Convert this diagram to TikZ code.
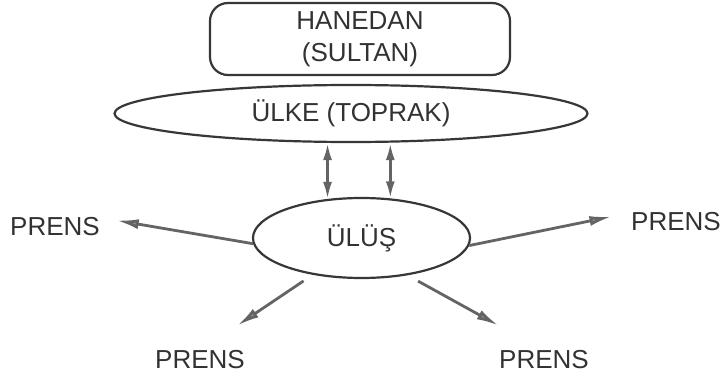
\documentclass[tikz,border=0pt]{standalone}
\usepackage{fontspec}
\setmainfont{Liberation Sans}
\usetikzlibrary{arrows.meta,shapes.geometric}

\begin{document}
\begin{tikzpicture}[x=1pt,y=1pt,
  lbl/.style={text=textColor,font=\fontsize{26}{32}\selectfont,inner sep=0pt},
  ring/.style={draw=drawColor,line width=2.2pt,ellipse,inner sep=0pt},
  link/.style={draw=arrowColor,line width=2.8pt,
    -{Latex[length=22pt,width=10pt,fill=headColor]}},
  twoway/.style={draw=arrowColor,line width=2.8pt,
    {Latex[length=17pt,width=9pt,fill=headColor]}-{Latex[length=17pt,width=9pt,fill=headColor]}}]
\definecolor{textColor}{RGB}{50,50,50}
\definecolor{drawColor}{RGB}{55,55,55}
\definecolor{arrowColor}{RGB}{100,100,100}
\definecolor{headColor}{RGB}{145,145,145}
\path[use as bounding box,fill=white] (0,0) rectangle (720,378);

% ruler and land
\node[lbl,draw=drawColor,line width=2.2pt,rounded corners=18pt,
  minimum width=300pt,minimum height=72pt,align=center] (hanedan) at (360,339) {HANEDAN\\(SULTAN)};
\node[ring,lbl,minimum width=473pt,minimum height=57pt] (ulke) at (351,264.5) {ÜLKE (TOPRAK)};

% share
\node[ring,lbl,minimum width=217pt,minimum height=80pt] (ulus) at (361.5,140) {ÜLÜŞ};

\draw[twoway] (ulus.131) -- (ulus.131 |- ulke.south);
\draw[twoway] (ulus.54) -- (ulus.54 |- ulke.south);

% princes
\node[lbl] (prensW) at (55,151) {PRENS};
\node[lbl] (prensE) at (676,156) {PRENS};
\node[lbl] (prensSW) at (200,18) {PRENS};
\node[lbl] (prensSE) at (544,18) {PRENS};

\draw[link,shorten >=17pt] (ulus.183) -- (prensW.north east);
\draw[link,shorten >=20pt] (ulus.356) -- (prensE.north west);
\draw[link,shorten <=11pt,shorten >=45pt] (ulus.217) -- (prensSW.north);
\draw[link,shorten <=12pt,shorten >=52pt] (ulus.-39) -- (prensSE.north);
\end{tikzpicture}
\end{document}
